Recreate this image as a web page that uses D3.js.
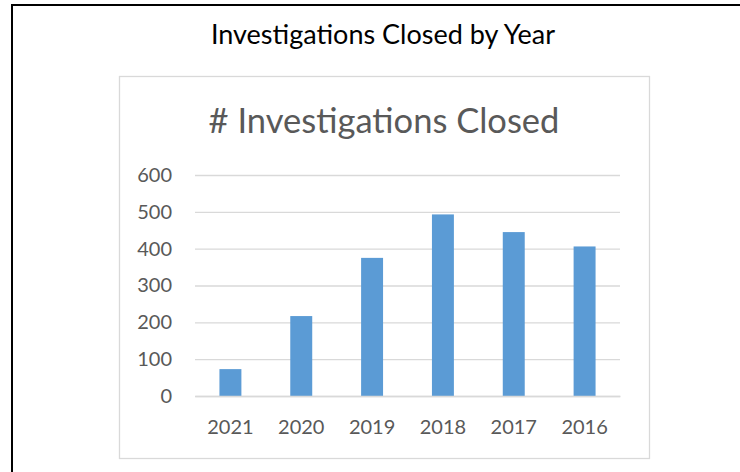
<html>
    <head>
        <script src='https://d3js.org/d3.v7.min.js'></script>
        <style>
            body { margin: 0; background: white; }
            text { font-family: Lato, 'Open Sans', sans-serif; }
            .page-title { font-size: 27px; fill: black; text-anchor: middle; }
            .chart-title { font-size: 34.5px; fill: #595959; text-anchor: middle; }
            .axis text { font-size: 20px; fill: #595959; }
            .axis line, .axis path { stroke: #d9d9d9; }
        </style>
    </head>
    <body>
        <svg width=740 height=472 class="vis"></svg>
        <script>
            // values
            const years = ["2021", "2020", "2019", "2018", "2017", "2016"];
            const closed = [73, 217, 375, 493, 445, 406];
            const yTicks = [0, 100, 200, 300, 400, 500, 600];

            const plotLeft = 195, plotRight = 620;
            const plotTop = 175, plotBottom = 396;

            const svg = d3.select(".vis");

            svg.append("rect")
                .attr("width", 740)
                .attr("height", 472)
                .attr("fill", "white");

            // black frame (left and top edges only are in view)
            svg.append("path")
                .attr("d", "M12,480 V5 H750")
                .attr("fill", "none")
                .attr("stroke", "black")
                .attr("stroke-width", 2);

            svg.append("text")
                .attr("class", "page-title")
                .attr("x", 383)
                .attr("y", 44)
                .text("Investigations Closed by Year");

            // chart area box
            svg.append("rect")
                .attr("x", 119.5)
                .attr("y", 76.5)
                .attr("width", 530)
                .attr("height", 382)
                .attr("fill", "white")
                .attr("stroke", "#d9d9d9")
                .attr("stroke-width", 1.3);

            svg.append("text")
                .attr("class", "chart-title")
                .attr("x", 384)
                .attr("y", 133)
                .text("# Investigations Closed");

            const xs = d3.scaleBand()
                .domain(years)
                .range([plotLeft, plotRight])
                .paddingInner(0.69)
                .paddingOuter(0.345);

            const ys = d3.scaleLinear()
                .domain([0, 600])
                .range([plotBottom, plotTop]);

            const yAxis = d3.axisLeft(ys)
                .tickValues(yTicks)
                .tickSize(-(plotRight - plotLeft))
                .tickPadding(23);

            const gy = svg.append("g")
                .attr("class", "axis")
                .attr("transform", `translate(${plotLeft},0)`)
                .call(yAxis);
            gy.select(".domain").remove();
            gy.selectAll("line").attr("stroke-width", 1.3);

            svg.selectAll(".bar")
                .data(years)
                .enter()
                .append("rect")
                .attr("class", "bar")
                .attr("x", function(d){return xs(d);})
                .attr("y", function(d, i){return ys(closed[i]);})
                .attr("width", xs.bandwidth())
                .attr("height", function(d, i){return plotBottom - ys(closed[i]);})
                .attr("fill", "#5b9bd5");

            const xAxis = d3.axisBottom(xs)
                .tickSize(0)
                .tickPadding(24);

            const gx = svg.append("g")
                .attr("class", "axis")
                .attr("transform", `translate(0,${plotBottom})`)
                .call(xAxis);
            gx.select(".domain")
                .attr("stroke", "#d9d9d9")
                .attr("stroke-width", 1.3);
        </script>
    </body>
</html>
